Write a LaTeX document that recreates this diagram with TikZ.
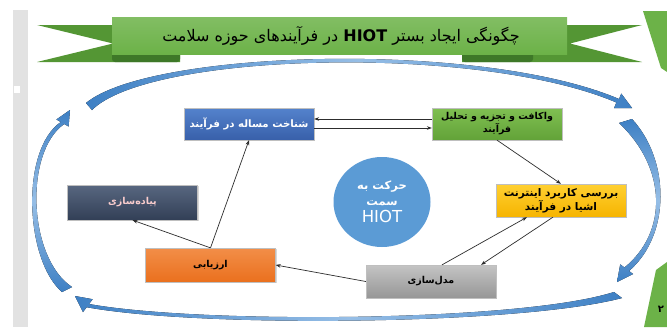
\documentclass[tikz,border=0pt]{standalone}
\usepackage{fontspec}
\newfontfamily\fa[Script=Arabic]{DejaVu Sans}
\TeXXeTstate=1
\usetikzlibrary{arrows.meta,calc,shadows,shapes.geometric}

\definecolor{bannergreen}{RGB}{108,178,72}
\definecolor{bannerdark}{RGB}{84,150,52}
\definecolor{folddark}{RGB}{62,120,40}
\definecolor{arcblue}{RGB}{62,128,196}
\definecolor{arclight}{RGB}{150,190,230}
\definecolor{linkgray}{RGB}{45,45,45}
\definecolor{sidegray}{RGB}{226,226,226}

\tikzset{
  procbox/.style={rectangle, minimum width=130pt, minimum height=32pt, inner sep=1pt,
    align=center, draw=black!25, line width=0.3pt,
    drop shadow={shadow xshift=1pt, shadow yshift=-1.2pt, opacity=0.3},
    font=\fa\bfseries\fontsize{9.5}{13}\selectfont},
  link/.style={draw=linkgray, line width=0.7pt, -{Stealth[length=5pt,width=3.6pt]}},
  cyclearc/.style={left color=arcblue, right color=arcblue, middle color=arclight},
  cyclearcv/.style={top color=arcblue, bottom color=arcblue, middle color=arclight},
}

\begin{document}
\begin{tikzpicture}[x=1pt,y=-1pt]
\useasboundingbox (0,0) rectangle (667,327);
\fill[white] (0,0) rectangle (667,327);

% slide side bar
\fill[sidegray] (13,10) rectangle (28,327);
\fill[white] (14,86) rectangle (20,93);

% right edge slide decorations
\fill[bannergreen] (643,11) -- (667,11) -- (667,72) -- (661,68) -- cycle;
\fill[bannergreen] (656,270) -- (667,262) -- (667,327) -- (644,327) -- cycle;
\node[font=\fa\bfseries\fontsize{10}{12}\selectfont, inner sep=0pt] (pagenum) at (661,309) {۲};

% title ribbon
\fill[bannerdark] (180,25) -- (37,25) -- (113,43.5) -- (37,62) -- (180,62) -- cycle;
\fill[bannerdark] (462,25) -- (642,25) -- (570,43.5) -- (642,62) -- (462,62) -- cycle;
\fill[folddark, rounded corners=3pt] (112,50) rectangle (180,62);
\fill[folddark, rounded corners=3pt] (462,50) rectangle (533,62);
\shade[top color=bannergreen!85!white, bottom color=bannergreen] (112,17) rectangle (567,54);
\node[font=\fa\fontsize{16}{18}\selectfont, inner sep=0pt] (title) at (341,36)
  {\beginR چگونگی ایجاد بستر \beginL{\bfseries HIOT}\endL{} در فرآیندهای حوزه سلامت\endR};

% cycle arrows around the process
\fill[cyclearc] (86,103) .. controls (150,50) and (480,40) .. (619,99)
  -- (621.3,93.6) -- (632,108) -- (614.1,108) -- (616.4,102.5)
  .. controls (480,44) and (150,52) .. (92,110) -- cycle;
\fill[cyclearcv] (632,119) .. controls (670,160) and (671,235) .. (629,271)
  -- (633,274) -- (617,282) -- (620.2,264.4) -- (624.5,267.5)
  .. controls (668,232) and (667,168) .. (619,123) -- cycle;
\fill[cyclearc] (622,298) .. controls (520,325) and (200,328) .. (86.6,307.2)
  -- (83,312) -- (75,296) -- (92.6,299.2) -- (89,304)
  .. controls (200,324) and (520,322) .. (614,292) -- cycle;
\fill[cyclearcv] (62,292) .. controls (25,260) and (20,150) .. (60.8,122)
  -- (56.4,119.5) -- (70,110) -- (68.6,126.5) -- (64.2,124)
  .. controls (24,152) and (28,258) .. (72,287) -- cycle;

% process steps
\node[procbox, top color={rgb,255:red,84;green,130;blue,204}, bottom color={rgb,255:red,56;green,96;blue,170}, text=white,
  font=\fa\bfseries\fontsize{10.2}{13}\selectfont]
  (problem) at (249,124) {\beginR شناخت مساله در فرآیند\endR};
\node[procbox, top color={rgb,255:red,128;green,192;blue,82}, bottom color={rgb,255:red,98;green,162;blue,56}, text=black]
  (analysis) at (497,124) {\beginR واکافت و تجزیه و تحلیل\endR\\\beginR فرآیند\endR};
\node[procbox, minimum height=35pt, top color={rgb,255:red,88;green,103;blue,128}, bottom color={rgb,255:red,50;green,63;blue,86}, text={rgb,255:red,250;green,205;blue,205}]
  (deploy) at (132.5,202.5) {\beginR پیاده‌سازی\endR};
\node[procbox, minimum height=34pt, top color={rgb,255:red,242;green,142;blue,72}, bottom color={rgb,255:red,234;green,112;blue,30}, text=black]
  (evaluate) at (210.5,265) {\beginR ارزیابی\endR};
\node[procbox, minimum height=33pt, top color={rgb,255:red,196;green,196;blue,196}, bottom color={rgb,255:red,150;green,150;blue,150}, text=black]
  (model) at (431,281.5) {\beginR مدل‌سازی\endR};
\node[procbox, minimum height=33pt, top color={rgb,255:red,255;green,208;blue,50}, bottom color={rgb,255:red,246;green,180;blue,0}, text=black, font=\fa\bfseries\fontsize{10.5}{14}\selectfont]
  (iot) at (561,200.5) {\beginR بررسی کاربرد اینترنت\endR\\\beginR اشیا در فرآیند\endR};

% central goal
\node[ellipse, minimum width=97pt, minimum height=90pt, fill={rgb,255:red,91;green,155;blue,213}, text=white, align=center, inner sep=0pt,
  font=\fa\fontsize{11.5}{16}\selectfont]
  (goal) at (382,202) {\bfseries\beginR حرکت به\endR\\\bfseries\beginR سمت\endR\\[1pt]{\fontsize{16.5}{16}\selectfont HIOT}};

% connectors
\draw[link] ([yshift=5pt]analysis.west) -- ([yshift=5pt]problem.east);
\draw[link] ([yshift=-4pt]problem.east) -- ([yshift=-4pt]analysis.west);
\draw[link] (analysis.south) -- (iot.north);
\draw[link] ([xshift=11pt]model.north) -- ([xshift=-34pt]iot.south);
\draw[link] ([xshift=-8pt]iot.south) -- ([xshift=50pt]model.north);
\draw[link] (model.west) -- (evaluate.east);
\draw[link] (evaluate.north) -- (problem.south);
\draw[link] (evaluate.north) -- (deploy.south);
\end{tikzpicture}
\end{document}
